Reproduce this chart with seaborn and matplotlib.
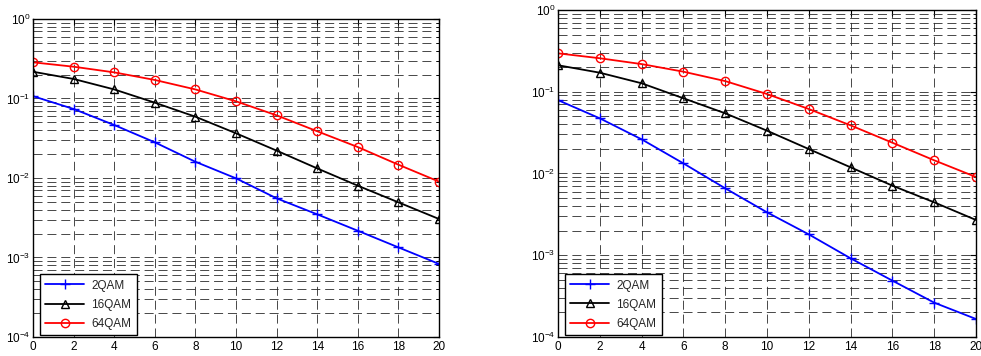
import numpy as np
import matplotlib
matplotlib.use("Agg")
import matplotlib.pyplot as plt
import seaborn as sns
from matplotlib.ticker import LogLocator, NullFormatter, FixedLocator

# SNR axis (dB)
snr_db = [0, 2, 4, 6, 8, 10, 12, 14, 16, 18, 20]
schemes = ["2QAM", "16QAM", "64QAM"]

# Bit error rate, left panel
ber_a_2qam = [0.107, 0.0738, 0.0464, 0.0281, 0.0160, 0.0099, 0.00555, 0.00349, 0.00217, 0.00134, 0.00083]
ber_a_16qam = [0.217, 0.176, 0.130, 0.0886, 0.059, 0.0365, 0.0221, 0.0132, 0.0080, 0.00494, 0.00305]
ber_a_64qam = [0.285, 0.251, 0.213, 0.171, 0.130, 0.0921, 0.0614, 0.0387, 0.0245, 0.0147, 0.0090]

# Bit error rate, right panel
ber_b_2qam = [0.079, 0.0473, 0.0262, 0.0133, 0.00659, 0.00335, 0.0018, 0.000917, 0.000489, 0.000263, 0.000166]
ber_b_16qam = [0.211, 0.171, 0.127, 0.0832, 0.0545, 0.0334, 0.0199, 0.0119, 0.0071, 0.00444, 0.0027]
ber_b_64qam = [0.295, 0.257, 0.218, 0.176, 0.135, 0.0938, 0.0615, 0.0388, 0.0238, 0.0145, 0.00906]

x_ticks = [0, 2, 4, 6, 8, 10, 12, 14, 16, 18, 20]

sns.set_style("white")
plt.rcParams["font.family"] = ["Liberation Sans", "DejaVu Sans"]
plt.rcParams["mathtext.default"] = "regular"
plt.rcParams["lines.scale_dashes"] = False

colors = ["#0000ff", "#000000", "#ff0000"]
markers = ["+", "^", "o"]

fig = plt.figure(figsize=(9.81, 3.56), dpi=100)
ax1 = fig.add_axes([0.0336, 0.0534, 0.4139, 0.8933])
ax2 = fig.add_axes([0.5688, 0.0534, 0.4261, 0.9185])

panels = [
    (ax1, [ber_a_2qam, ber_a_16qam, ber_a_64qam]),
    (ax2, [ber_b_2qam, ber_b_16qam, ber_b_64qam]),
]

for ax, series in panels:
    for name, vals, c, m in zip(schemes, series, colors, markers):
        sns.lineplot(x=snr_db, y=vals, ax=ax, color=c, marker=m,
                     markersize=6.5 if m == "+" else 6,
                     markerfacecolor="none", markeredgecolor=c,
                     markeredgewidth=1.0, linewidth=1.3, label=name)
    ax.set_yscale("log")
    ax.set_ylim(1e-4, 1)
    ax.set_xlim(0, 20)
    ax.xaxis.set_major_locator(FixedLocator(x_ticks))
    ax.yaxis.set_major_locator(LogLocator(base=10, numticks=10))
    ax.yaxis.set_minor_locator(LogLocator(base=10, subs=np.arange(2, 10), numticks=20))
    ax.yaxis.set_minor_formatter(NullFormatter())
    ax.grid(True, which="both", axis="both", color="#2a2a2a",
            linestyle=(0, (6.5, 3.5)), linewidth=0.6)
    ax.set_axisbelow(True)
    ax.tick_params(which="both", direction="in", top=True, right=True,
                   labelsize=8.5, colors="black")
    ax.tick_params(which="major", length=4, width=0.8)
    ax.tick_params(which="minor", length=2, width=0.6)
    ax.tick_params(axis="y", pad=2)
    ax.tick_params(axis="x", pad=3)
    for sp in ax.spines.values():
        sp.set_color("black")
        sp.set_linewidth(1.0)
    ax.set_xlabel("")
    ax.set_ylabel("")
    leg = ax.legend(loc="lower left", bbox_to_anchor=(0.017, 0.006),
                    fontsize=8.5, fancybox=False, framealpha=1,
                    edgecolor="black", handlelength=3.3, labelspacing=0.6,
                    borderaxespad=0.0, borderpad=0.45, handletextpad=0.6)
    leg.get_frame().set_linewidth(1.0)

fig.savefig("out.png", dpi=100)
